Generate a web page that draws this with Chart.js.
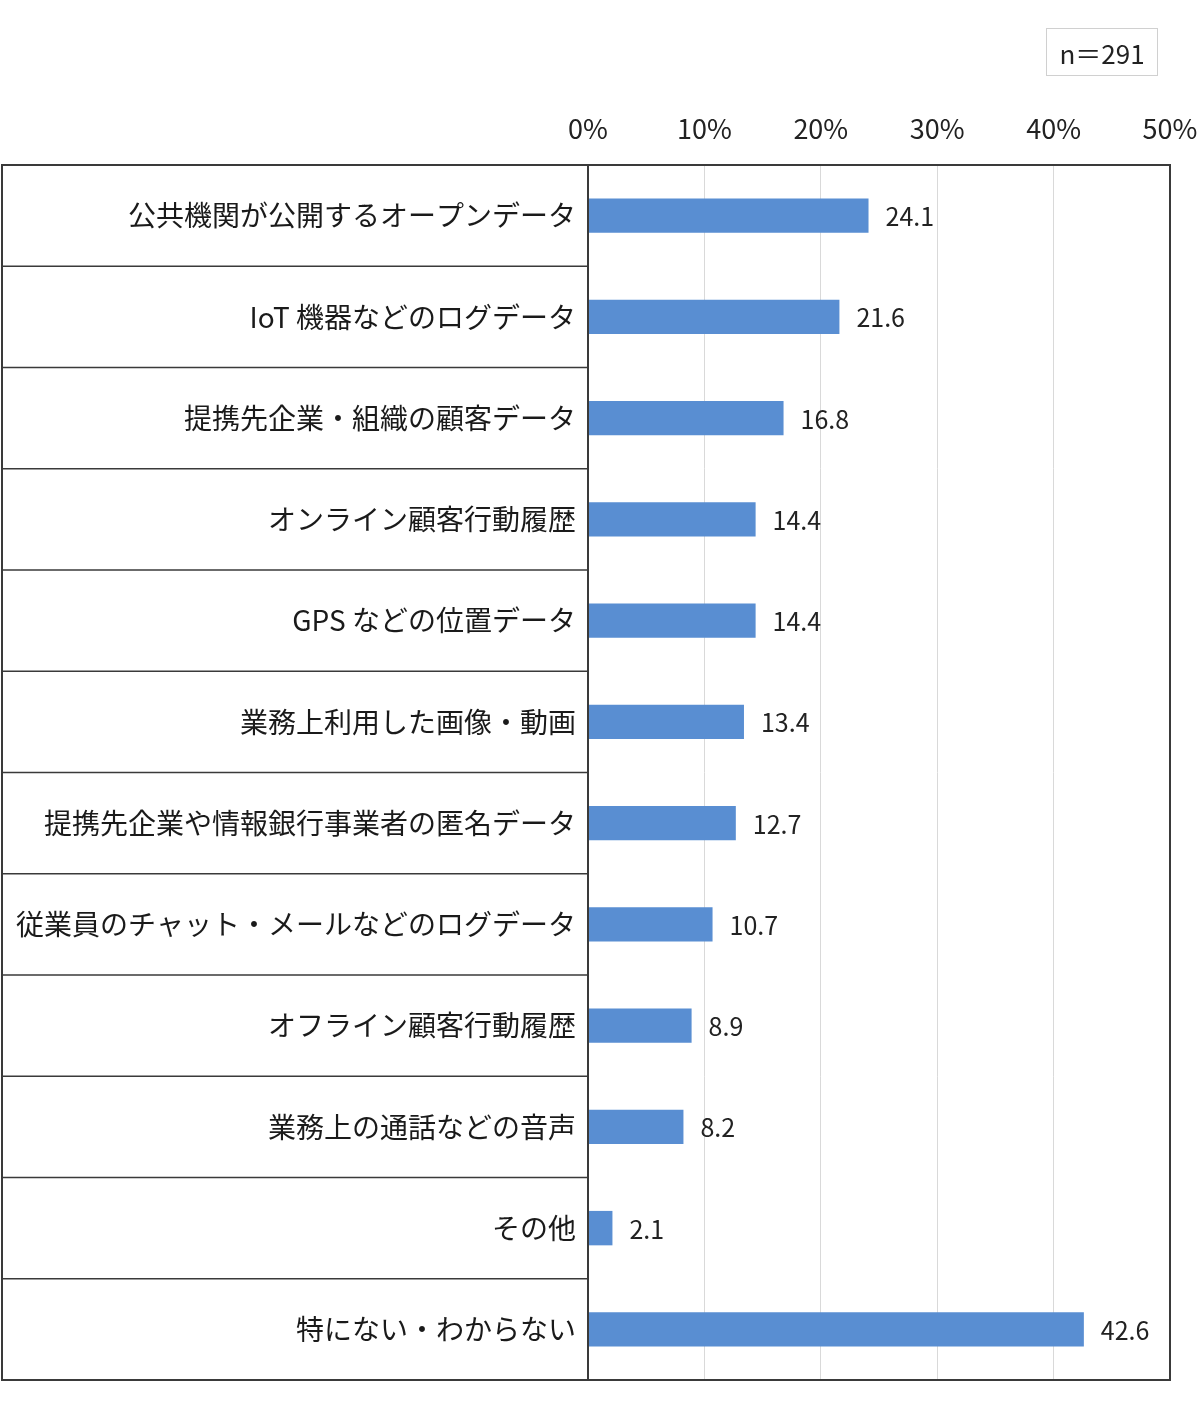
<!DOCTYPE html>
<html lang="ja">
<head>
<meta charset="utf-8">
<title>データ活用の種類</title>
<script src="https://cdn.jsdelivr.net/npm/chart.js@4.4.1/dist/chart.umd.min.js"></script>
<style>
  html, body { margin: 0; padding: 0; background: #fff; }
  #wrap { position: relative; width: 1200px; height: 1410px; }
  #nbox {
    position: absolute; left: 1046px; top: 28px; width: 112px; height: 48px;
    border: 1px solid #d0d0d0; box-sizing: border-box;
    font: 26px "Noto Sans CJK JP", "Noto Sans", sans-serif; color: #222;
    display: flex; align-items: center; justify-content: center;
  }
</style>
</head>
<body>
<div id="wrap">
  <canvas id="chart" width="1200" height="1410"></canvas>
  <div id="nbox">n＝291</div>
</div>
<script>
// categories and values (percent)
const labels = [
  '公共機関が公開するオープンデータ',
  'IoT 機器などのログデータ',
  '提携先企業・組織の顧客データ',
  'オンライン顧客行動履歴',
  'GPS などの位置データ',
  '業務上利用した画像・動画',
  '提携先企業や情報銀行事業者の匿名データ',
  '従業員のチャット・メールなどのログデータ',
  'オフライン顧客行動履歴',
  '業務上の通話などの音声',
  'その他',
  '特にない・わからない'
];
const values = [24.1, 21.6, 16.8, 14.4, 14.4, 13.4, 12.7, 10.7, 8.9, 8.2, 2.1, 42.6];
const ticksPct = [0, 10, 20, 30, 40, 50];

const jpFont = '"Noto Sans CJK JP", "Noto Sans", sans-serif';

// table lines round the label column and the outer frame
const tableLines = {
  id: 'tableLines',
  afterDraw(chart) {
    const ctx = chart.ctx;
    const y = chart.scales.y;
    const x = chart.scales.x;
    const area = chart.chartArea;
    const left = y.left;
    ctx.save();
    // row separators in the label column
    ctx.strokeStyle = '#3a3a3a';
    ctx.lineWidth = 1.5;
    for (let i = 1; i < labels.length; i++) {
      const py = (y.getPixelForValue(i - 1) + y.getPixelForValue(i)) / 2;
      ctx.beginPath();
      ctx.moveTo(left, py);
      ctx.lineTo(area.left, py);
      ctx.stroke();
    }
    // outer frame
    ctx.lineWidth = 2;
    ctx.strokeRect(left, area.top, area.right - left, area.bottom - area.top);
    // zero line
    ctx.beginPath();
    ctx.moveTo(x.getPixelForValue(0), area.top);
    ctx.lineTo(x.getPixelForValue(0), area.bottom);
    ctx.stroke();
    ctx.restore();
  }
};

// value labels to the right of each bar
const valueLabels = {
  id: 'valueLabels',
  afterDatasetsDraw(chart) {
    const ctx = chart.ctx;
    const meta = chart.getDatasetMeta(0);
    ctx.save();
    ctx.font = '25px ' + jpFont;
    ctx.fillStyle = '#222';
    ctx.textAlign = 'left';
    ctx.textBaseline = 'middle';
    meta.data.forEach((bar, i) => {
      ctx.fillText(values[i].toFixed(1), bar.x + 17, bar.y + 1);
    });
    ctx.restore();
  }
};

new Chart(document.getElementById('chart'), {
  type: 'bar',
  data: {
    labels: labels,
    datasets: [{
      data: values,
      backgroundColor: '#598ed2',
      borderWidth: 0,
      barPercentage: 0.34,
      categoryPercentage: 1
    }]
  },
  options: {
    indexAxis: 'y',
    responsive: false,
    animation: false,
    layout: { padding: { left: 2, right: 30, top: 0, bottom: 30 } },
    plugins: { legend: { display: false }, tooltip: { enabled: false } },
    scales: {
      x: {
        position: 'top',
        min: 0,
        max: 50,
        afterBuildTicks(scale) {
          scale.ticks = ticksPct.map(v => ({ value: v }));
        },
        afterFit(scale) {
          scale.height = 165;
          scale.paddingLeft = 0;
          scale.paddingRight = 0;
        },
        grid: { color: '#d9d9d9', lineWidth: 1, drawTicks: false },
        border: { display: false },
        ticks: {
          padding: 20,
          color: '#222',
          font: { size: 27, family: jpFont },
          callback: v => v + '%'
        }
      },
      y: {
        afterFit(scale) { scale.width = 586; },
        grid: { display: false },
        border: { display: false },
        ticks: {
          padding: 4,
          color: '#1a1a1a',
          font: { size: 28, family: jpFont }
        }
      }
    }
  },
  plugins: [tableLines, valueLabels]
});
</script>
</body>
</html>
